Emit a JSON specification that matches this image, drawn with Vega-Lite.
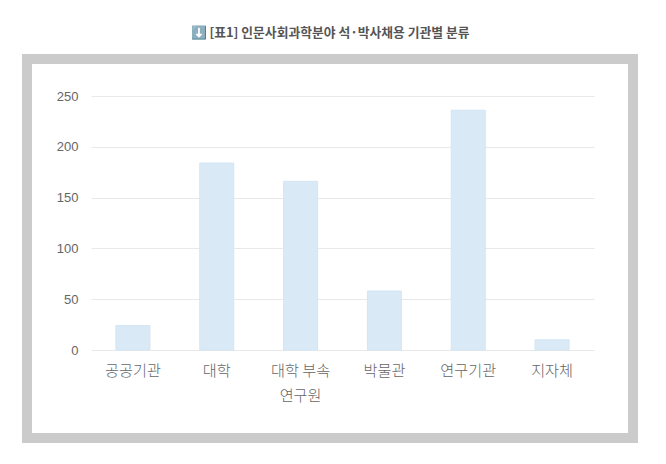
{
  "$schema": "https://vega.github.io/schema/vega-lite/v5.json",
  "width": 606,
  "height": 379,
  "autosize": "none",
  "padding": {"left": 27, "top": 59, "right": 33, "bottom": 26},
  "background": "#ffffff",
  "view": {"stroke": "#cbcbcb", "strokeWidth": 10, "fill": "#ffffff"},
  "title": {
    "text": "⬇️ [표1] 인문사회과학분야 석·박사채용 기관별 분류",
    "font": "Noto Sans CJK KR",
    "fontSize": 12.8,
    "fontWeight": "bold",
    "color": "#555555",
    "anchor": "middle",
    "offset": 19
  },
  "data": {
    "values": [
      {"기관": "공공기관", "인원": 24},
      {"기관": "대학", "인원": 184},
      {"기관": "대학 부속|연구원", "인원": 166},
      {"기관": "박물관", "인원": 58},
      {"기관": "연구기관", "인원": 236},
      {"기관": "지자체", "인원": 10}
    ]
  },
  "mark": {"type": "bar", "size": 34, "fill": "#dae9f6", "stroke": "#d2e5f4", "strokeWidth": 1},
  "encoding": {
    "x": {
      "field": "기관",
      "type": "nominal",
      "sort": null,
      "scale": {"range": [64, 567], "paddingInner": 0, "paddingOuter": 0},
      "axis": {
        "title": null,
        "offset": -88,
        "domain": false,
        "ticks": false,
        "grid": false,
        "labelAngle": 0,
        "labelPadding": 13,
        "labelFont": "Noto Sans CJK KR",
        "labelFontSize": 15.2,
        "labelFontWeight": 300,
        "labelColor": "#666666",
        "labelLineHeight": 25,
        "labelExpr": "split(datum.label, '|')"
      }
    },
    "y": {
      "field": "인원",
      "type": "quantitative",
      "scale": {"domain": [0, 250], "range": [291, 37]},
      "axis": {
        "title": null,
        "offset": -64,
        "values": [0, 50, 100, 150, 200, 250],
        "domain": false,
        "ticks": false,
        "grid": true,
        "gridColor": "#e8e8e8",
        "gridWidth": 1,
        "labelPadding": 13,
        "labelFont": "Liberation Sans",
        "labelFontSize": 13,
        "labelColor": "#666666"
      }
    }
  }
}
